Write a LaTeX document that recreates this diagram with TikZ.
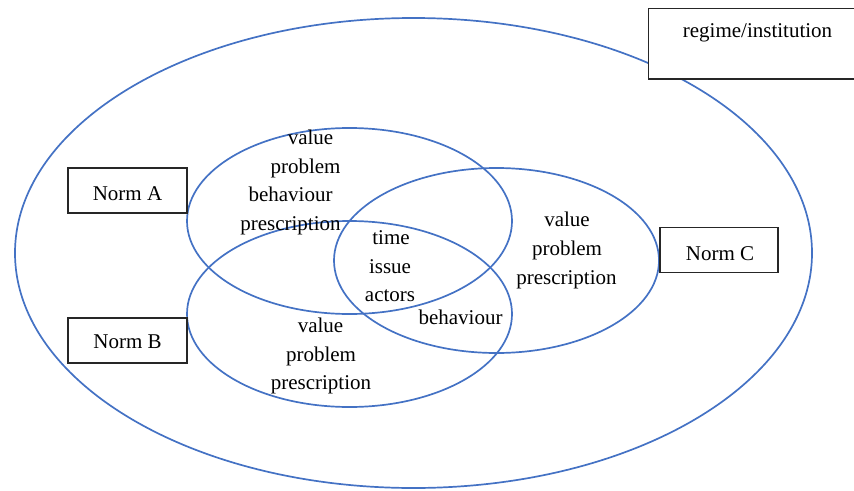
\documentclass[tikz,border=0pt]{standalone}
\usepackage{fontspec}
\setmainfont{Liberation Serif}
\usetikzlibrary{shapes.geometric}
\definecolor{ringblue}{HTML}{4472C4}
\definecolor{boxgray}{HTML}{262626}
\tikzset{
  ring/.style={draw=ringblue, line width=1.7pt, ellipse, inner sep=0pt, outer sep=0pt},
  labelbox/.style={draw=boxgray, line width=1.1pt, fill=white, inner sep=0pt, outer sep=0pt},
  txt/.style={anchor=base, inner sep=0pt, font=\fontsize{21}{25}\selectfont},
}
\begin{document}
\begin{tikzpicture}[x=1pt,y=-1pt]
\useasboundingbox (0,0) rectangle (854,490);
\begin{scope}
\clip (0,0) rectangle (854,490);
% rings
\node[ring, minimum width=797pt, minimum height=470pt] (outer) at (413.5,253) {};
\node[ring, minimum width=325pt, minimum height=186pt] (ea) at (349.5,221) {};
\node[ring, minimum width=325pt, minimum height=186pt] (eb) at (349.5,314) {};
\node[ring, minimum width=325pt, minimum height=185pt] (ec) at (496.5,260.5) {};
% boxes
\node[labelbox, minimum width=214pt, minimum height=70.7pt] (regbox) at (755.5,43.65) {};
\end{scope}
\node[labelbox, minimum width=119pt, minimum height=45pt] (boxa) at (127.5,190.5) {};
\node[labelbox, minimum width=119pt, minimum height=45pt] (boxb) at (127.5,340.5) {};
\node[labelbox, minimum width=118pt, minimum height=45pt] (boxc) at (719,250.2) {};
% box labels
\node[txt] (reg) at (757.5,37.7) {regime/institution};
\node[txt] (norma) at (127.5,200) {Norm A};
\node[txt] (normb) at (127.5,348) {Norm B};
\node[txt] (normc) at (720,260) {Norm C};
% norm A texts
\node[txt] (a1) at (310.5,144.5) {value};
\node[txt] (a2) at (305.5,173) {problem};
\node[txt] (a3) at (290.5,201.5) {behaviour};
\node[txt] (a4) at (290.5,230) {prescription};
% shared texts
\node[txt] (m1) at (391,244) {time};
\node[txt] (m2) at (390,273) {issue};
\node[txt] (m3) at (390,301) {actors};
\node[txt] (m4) at (460.5,324) {behaviour};
% norm B texts
\node[txt] (b1) at (320.5,332) {value};
\node[txt] (b2) at (321,361) {problem};
\node[txt] (b3) at (321,389) {prescription};
% norm C texts
\node[txt] (c1) at (567,226.7) {value};
\node[txt] (c2) at (567,255.5) {problem};
\node[txt] (c3) at (566.5,284) {prescription};
\end{tikzpicture}
\end{document}
